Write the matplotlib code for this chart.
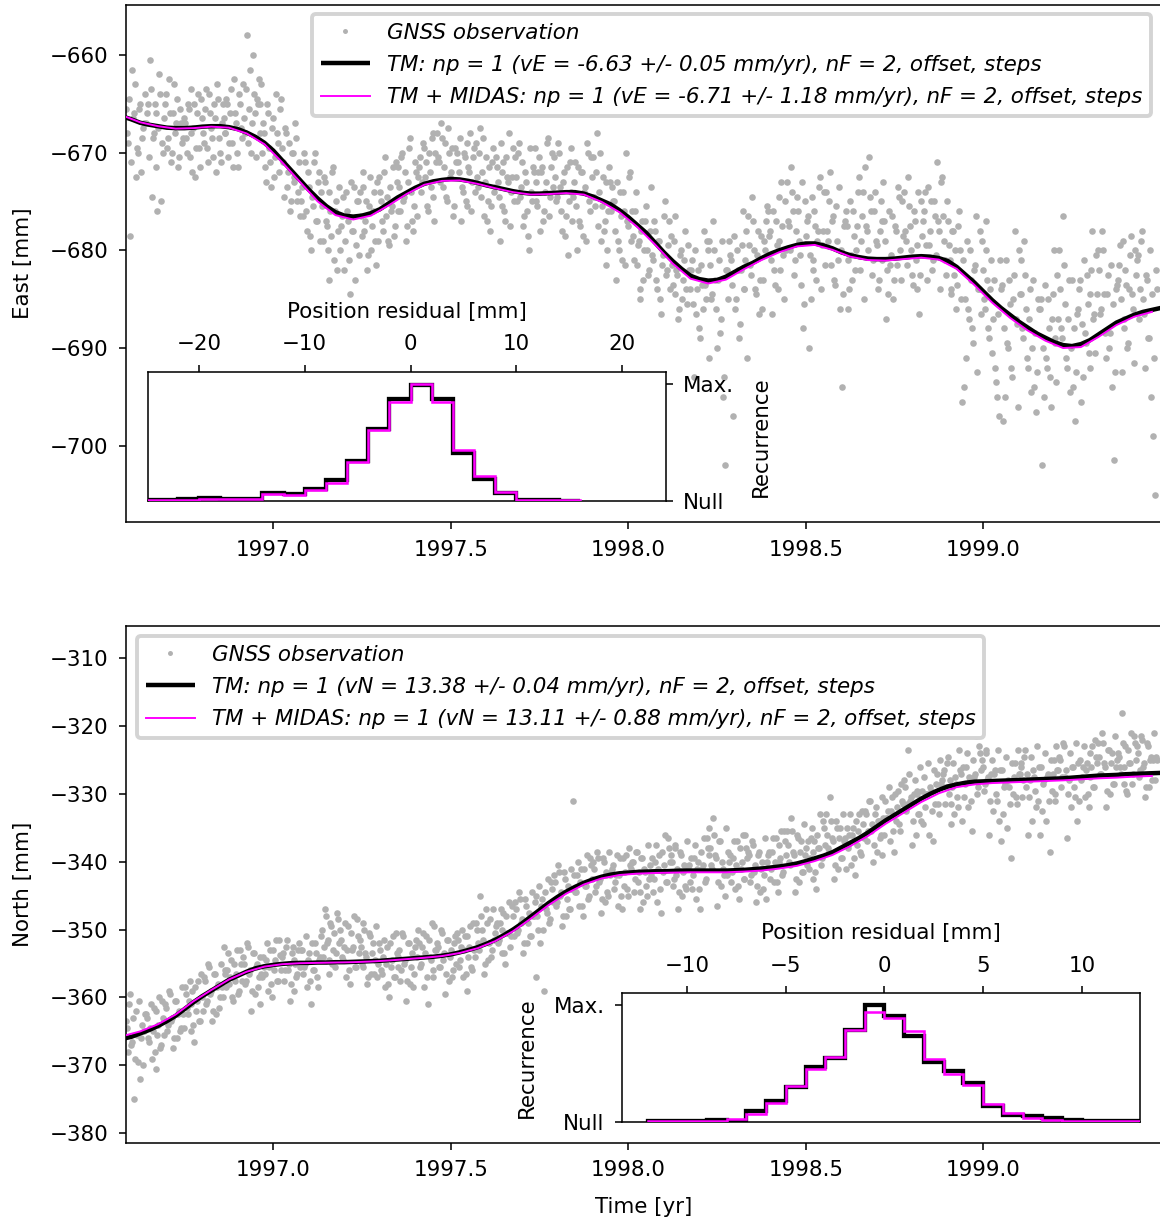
import numpy as np
import matplotlib
matplotlib.use("Agg")
import matplotlib.pyplot as plt

plt.rcParams["font.family"] = "DejaVu Sans"
plt.rcParams["font.size"] = 11
plt.rcParams["xtick.major.pad"] = 5.5
plt.rcParams["ytick.major.pad"] = 5.5
plt.rcParams["axes.labelpad"] = 8.6

# ---------------- data ----------------
# East observations, even days
east_obs = [
    -665.5, -669, -678.5, -661.5, -666, -672.5, -670, -665, -668.5, -667,
    -667, -665, -660.5, -674.5, -668, -666, -676, -662, -675, -670,
    -665, -669.5, -662.5, -671, -666, -668, -664.5, -670.5, -667, -668.5,
    -667, -670, -665.5, -668, -672, -665, -669.5, -664, -671.5, -666.5,
    -669, -663.5, -671, -666, -668.5, -665, -672, -664.5, -670, -667,
    -666.5, -668, -665, -669, -663.5, -671.5, -666, -670, -664, -667.5,
    -663, -668, -658, -665.5, -670, -660, -666, -664.5, -662.5, -665,
    -670, -668, -673, -666, -671, -667.5, -672.5, -664, -669, -665.5,
    -669.5, -674.5, -668, -672, -676, -670, -673, -667, -675, -671,
    -675, -676.5, -671, -678, -673.5, -680, -675.5, -670, -677, -672,
    -674, -679, -673, -677.5, -683, -676, -672, -681, -675, -678,
    -680, -676.5, -682, -674, -677, -684.5, -678, -673.5, -679.5, -675,
    -674, -678.5, -672, -677, -682, -675.5, -680, -676, -679, -673,
    -672.5, -675, -678, -670.5, -674.5, -679.5, -676, -671.5, -677.5, -673,
    -671.5, -676, -670, -674.5, -679, -673, -668.5, -677, -675.5, -672,
    -672.5, -670.5, -673, -669.5, -671, -676, -672, -668.5, -674.5, -670,
    -668, -671, -667, -673.5, -669, -675, -670, -672, -676.5, -669.5,
    -670, -672, -677, -674, -670.5, -675.5, -671.5, -668, -673, -669.5,
    -669, -673.5, -667.5, -672, -676.5, -670.5, -675, -678, -671, -674,
    -670.5, -673, -679, -675.5, -671, -677, -672.5, -668, -674, -669.5,
    -670.5, -675, -669, -673.5, -677.5, -672, -676, -680, -674, -671.5,
    -669.5, -675, -672, -678, -671.5, -676, -673, -668.5, -674.5, -670,
    -670.5, -675, -669, -673.5, -678, -672, -676.5, -680.5, -671, -674,
    -674.5, -671, -680, -677, -672, -678.5, -673.5, -669, -675, -670.5,
    -670.5, -675.5, -668, -674, -679, -672.5, -677, -681.5, -676, -673,
    -673.5, -675, -683, -679, -674, -681, -676, -670, -677.5, -672,
    -676, -681, -674, -679.5, -685, -678, -683, -677, -680, -682,
    -673.5, -681, -678, -684, -679, -686.5, -680.5, -675, -682, -677,
    -678.5, -683.5, -676.5, -682, -687, -680.5, -685, -681, -684, -679.5,
    -684, -681, -693, -686.5, -682, -689, -683.5, -678, -685, -680,
    -679, -685, -677, -683, -690, -681, -687, -695, -702, -682,
    -679, -681, -697, -686, -680, -689, -682, -676, -684, -678,
    -676.5, -681.5, -674.5, -680, -684.5, -678, -683, -686, -679, -677,
    -676, -678, -686.5, -682, -677, -684, -679, -673, -680.5, -675,
    -673, -677.5, -671.5, -676, -681, -674.5, -679, -683.5, -688, -675,
    -677, -690, -685, -681, -676, -683, -678, -672.5, -679.5, -674,
    -674, -679, -672, -677, -683, -675.5, -681, -686, -694, -677.5,
    -676, -686, -684, -680.5, -676, -682, -677.5, -672.5, -679, -674,
    -671.5, -678, -670.5, -676, -681, -674, -679.5, -683, -675, -677,
    -677, -687, -684.5, -681.5, -676.5, -683, -678, -673.5, -680, -675,
    -674, -679, -672.5, -677.5, -682.5, -676, -681, -684, -686.5, -675,
    -677, -674, -683, -679.5, -675, -681, -676.5, -671, -678, -673,
    -676.5, -681, -675, -679.5, -684, -678, -682.5, -686, -677.5, -680,
    -695.5, -694, -691, -686, -680, -688, -682, -676.5, -684, -678,
    -679, -685, -677, -683, -689, -681, -687, -692, -695, -697,
    -684, -697.5, -695, -689.5, -683, -692, -685, -678, -687.5, -680,
    -681, -688, -679, -686, -692, -684, -690, -694, -696.5, -685,
    -686, -702, -695, -691, -685, -693, -687, -680, -689, -682.5,
    -680, -688, -676.5, -685.5, -692, -683, -690, -694, -697.5, -686.5,
    -684, -695.5, -693, -688.5, -682.5, -690.5, -684.5, -678, -686.5, -680.5,
    -680, -686.5, -678, -684.5, -691, -682.5, -688.5, -694, -701.5, -684,
    -683, -679.5, -692.5, -688, -682, -690, -684, -678.5, -686, -680,
    -681, -687, -679, -685, -692, -683, -689, -695, -699, -705,
    -684,
]
# East observations, odd days
east_obs_odd = [
    -668, -664.5, -671, -666.5, -663, -669.5, -665.5, -672, -667.5, -664,
    -666, -670.5, -663.5, -668.5, -665, -671.5, -667.5, -664, -669, -666.5,
    -664, -668.5, -666, -670, -663, -667, -671.5, -665.5, -669, -666.5,
    -668.5, -665, -670.5, -663.5, -667.5, -672.5, -666, -669.5, -664.5, -668,
    -665.5, -669.5, -664, -667.5, -670.5, -666.5, -663, -668.5, -671, -665,
    -668, -664.5, -670.5, -666, -669, -662.5, -667, -671.5, -665, -668.5,
    -666.5, -663.5, -669, -661.5, -667, -664, -670.5, -665, -668, -663,
    -667, -671.5, -665, -669.5, -673.5, -666.5, -670.5, -668, -672, -664.5,
    -671, -667.5, -673.5, -669, -675, -670, -672.5, -668.5, -674, -676.5,
    -673.5, -670, -676, -672, -678.5, -674.5, -671, -677, -673, -679,
    -675.5, -672.5, -677, -680, -674, -678.5, -671.5, -676, -682, -673.5,
    -677.5, -674.5, -679, -676, -681, -673, -678, -683, -675, -680.5,
    -676.5, -673.5, -678, -675, -680.5, -672.5, -677.5, -674, -681.5, -679,
    -674, -677, -672, -676.5, -679, -673.5, -675.5, -678.5, -671, -676,
    -673.5, -670.5, -675, -672, -677.5, -669.5, -674, -678, -671, -676.5,
    -671.5, -674, -669, -672.5, -675.5, -670, -673.5, -668, -677, -671,
    -670.5, -673, -668.5, -671.5, -674.5, -667.5, -672.5, -669.5, -675.5, -671,
    -671, -668.5, -673.5, -670, -675, -669, -672, -676, -670.5, -674,
    -672.5, -670, -674.5, -668.5, -673, -677, -671.5, -675.5, -669.5, -673.5,
    -671.5, -674.5, -669, -672, -676, -670.5, -673, -677.5, -672.5, -675,
    -672.5, -670, -674.5, -671, -676.5, -673, -678.5, -669.5, -675, -672,
    -673, -675.5, -670.5, -672, -677, -674, -669, -676.5, -671.5, -673.5,
    -672.5, -674.5, -670, -676, -673, -678.5, -671.5, -675, -669.5, -677,
    -673, -675.5, -671.5, -677.5, -672, -674, -679, -670, -676, -672.5,
    -674.5, -672, -677.5, -670, -675.5, -678, -673, -680, -671.5, -676,
    -675, -678, -673, -680, -676.5, -674, -681.5, -677, -672.5, -679,
    -678.5, -676, -681.5, -679, -684, -677, -680, -675.5, -682.5, -678,
    -680.5, -677, -683, -679, -685, -681.5, -676.5, -682.5, -679.5, -684,
    -681.5, -679, -684.5, -682.5, -686, -680, -683, -678, -685.5, -682,
    -682, -685.5, -680, -684, -688, -681.5, -686, -683.5, -679, -691,
    -681.5, -684.5, -680, -686, -683, -688.5, -679, -693, -682, -685,
    -680.5, -683.5, -678.5, -685, -682, -687.5, -679.5, -684, -681, -691,
    -679.5, -682.5, -677, -684, -680.5, -686.5, -678.5, -683, -680, -675.5,
    -678.5, -681, -676, -683.5, -679.5, -674.5, -682, -677.5, -685, -680,
    -677, -680, -674, -682.5, -678, -676, -680.5, -673, -685.5, -678.5,
    -676.5, -680.5, -674.5, -682, -677.5, -679, -673.5, -684, -678, -681.5,
    -678, -675, -681.5, -676.5, -683.5, -679, -673.5, -680, -684.5, -677,
    -677.5, -681, -675, -683, -678.5, -680, -674, -682, -676.5, -685,
    -677.5, -680, -674.5, -682.5, -676, -679, -684, -678, -681, -673,
    -679, -682, -676, -680.5, -685, -677.5, -681.5, -674.5, -683, -678.5,
    -678, -681.5, -675.5, -680, -683.5, -677, -679.5, -674, -682.5, -678.5,
    -676, -679.5, -673.5, -678, -682, -675, -680.5, -677, -684, -672.5,
    -679, -682.5, -677, -681, -684.5, -678, -680, -683.5, -676, -685,
    -681, -685, -679, -687, -683, -689.5, -681.5, -692.5, -684, -686.5,
    -682, -686, -680, -688, -684, -690.5, -683, -693.5, -686.5, -681,
    -683.5, -688, -681, -690, -685.5, -693, -682.5, -687, -696, -684.5,
    -684.5, -689, -682.5, -691, -687, -694.5, -683, -688.5, -692.5, -686,
    -685, -690, -683.5, -692, -688, -696, -684.5, -689.5, -693.5, -687,
    -684, -689, -681.5, -691, -687, -694.5, -683, -688, -692.5, -686,
    -683, -687.5, -681, -689.5, -685.5, -692, -682, -687, -690.5, -684.5,
    -682, -686, -680, -688.5, -684.5, -690, -681.5, -685.5, -692.5, -683.5,
    -681.5, -685, -679, -687, -683.5, -689.5, -680.5, -684.5, -691.5, -682.5,
    -680.5, -684, -678, -686.5, -682.5, -689, -680, -684.5, -691, -682,
]

# North observations, even days
north_obs = [
    -363.5, -368, -359.5, -366.5, -375, -362, -369.5, -372, -364, -365,
    -362.5, -366, -364.5, -369, -361.5, -370.5, -365.5, -360, -367, -363,
    -361, -365, -359, -363.5, -367.5, -360.5, -366, -362, -364.5, -362.5,
    -358.5, -361.5, -360.5, -365, -359, -366.5, -362, -357.5, -363.5, -360,
    -357, -361, -355, -359.5, -363.5, -356.5, -362.5, -358, -360, -358.5,
    -352.5, -356.5, -356, -358, -354.5, -360.5, -357.5, -353, -359, -355,
    -354, -358, -352, -356.5, -362, -353.5, -359.5, -355, -357, -361,
    -357, -355.5, -354.5, -359, -353, -360, -356, -351.5, -357.5, -353.8,
    -354, -357.5, -352.5, -356, -360.5, -353.5, -359, -355, -356.5, -352,
    -353, -356.5, -355, -358.5, -353.5, -361, -356, -352, -357, -354.5,
    -351, -354, -347, -352, -356.5, -349, -355, -350.5, -353.5, -348.5,
    -350, -354, -352.5, -357, -349.5, -358, -353, -348, -355.5, -351,
    -351.5, -355, -349, -353.5, -358, -350.5, -356.5, -352, -354.5, -357,
    -352, -356, -354, -358.5, -352.5, -360, -355.5, -351, -357, -353.5,
    -354, -357.5, -350.5, -355, -360.5, -352, -358, -353.5, -356.5, -351.5,
    -350, -355.5, -352.5, -358.5, -351, -361, -354, -349, -357, -353,
    -352, -355.5, -350, -354.5, -359.5, -351.5, -357.5, -353, -356, -351,
    -350.5, -355.5, -352.5, -357, -351, -359, -354, -349.5, -356, -353,
    -349, -352, -345, -350, -356.5, -347, -354.5, -348.5, -353, -351.5,
    -349.5, -352, -349, -353.5, -347.5, -355, -350.5, -346, -351, -348,
    -346, -350.5, -344.5, -349, -353.5, -345.5, -352, -347.5, -351, -348,
    -346, -357, -350, -352, -345.5, -359, -347, -342.5, -348.5, -344,
    -342, -346.5, -340.5, -345, -349.5, -341.5, -348, -343.5, -347, -344,
    -331, -344.5, -342, -346.5, -341, -348, -343.5, -339, -345, -340.5,
    -340, -344.5, -338.5, -343, -347.5, -339.5, -346, -341.5, -345, -342,
    -341, -344, -342, -346.5, -339.5, -347, -343.5, -339, -345, -340.5,
    -340, -344.5, -338.5, -343, -347, -339.5, -346, -341.5, -345, -342.5,
    -342, -344.5, -340, -346, -339, -347.5, -341.5, -336, -343, -338,
    -339, -343.5, -337.5, -342, -347, -338.5, -345, -340.5, -344, -341,
    -343, -344, -339.5, -345.5, -340, -347, -341, -336.5, -342.5, -338,
    -335, -340.5, -333.5, -339, -346.5, -337, -343.5, -341, -345, -342,
    -340, -343, -339.5, -344, -337, -345.5, -341, -336, -342.5, -338,
    -338.5, -343, -337, -341.5, -346, -339, -344.5, -340, -342, -345.5,
    -339, -342.5, -338.5, -343, -336.5, -344.5, -340, -335.5, -341.5, -337,
    -335.5, -340, -333.5, -338.5, -344.5, -336, -343, -337, -341.5, -339,
    -340.5, -341, -336.5, -342.5, -337, -344, -338, -333, -339.5, -335,
    -333, -338, -330.5, -336.5, -342.5, -334, -341, -335, -339.5, -337,
    -341, -338, -336, -340.5, -335, -342, -337.5, -333, -339, -334.5,
    -332.5, -337, -331, -335.5, -340, -333, -338.5, -334, -336, -339,
    -336, -333.5, -332.5, -337, -330.5, -338.5, -334, -329.5, -335.5, -331,
    -328, -332.5, -323.5, -331, -337.5, -330, -336, -329.5, -333, -334,
    -334.5, -332, -330, -336, -329.5, -337, -331.5, -327, -333, -328.5,
    -327, -331.5, -325.5, -330, -334.5, -329, -333, -328.5, -332, -326.5,
    -334, -330.5, -326, -332, -328, -335.5, -327.5, -321.5, -329, -324,
    -325, -329.5, -323.5, -328, -336, -327, -332.5, -326.5, -331, -334,
    -337, -333, -328.5, -335, -329, -339.5, -330, -325.5, -331.5, -327,
    -326, -330.5, -324.5, -329, -336, -328, -334, -327.5, -332, -331,
    -336, -332.5, -328, -334, -327, -338.5, -329.5, -325, -331, -326.5,
    -324.5, -329, -322.5, -327.5, -336.5, -328, -332, -326, -330.5, -334,
    -331, -328, -326, -330.5, -325.5, -332, -327.5, -323, -329, -324.5,
    -322.5, -327, -321, -325.5, -332, -323.5, -330, -324, -328.5, -326,
    -324, -326, -318, -328.5, -323, -330, -325.5, -321, -327, -322.5,
    -323, -327.5, -321.5, -326, -330.5, -322.5, -329, -324.5, -325, -328,
    -325,
]
# North observations, odd days
north_obs_odd = [
    -364.5, -361, -367, -363, -369, -365.5, -360.5, -366, -370, -362.5,
    -363, -366.5, -361, -365, -368, -362, -364, -367.5, -360.5, -365.5,
    -361.5, -364, -359.5, -363, -366, -360.5, -362.5, -365, -358.5, -364.5,
    -359.5, -362.5, -357.5, -361, -364, -358.5, -360.5, -363.5, -356.5, -362,
    -357.5, -360.5, -355.5, -359, -362, -356.5, -358.5, -361.5, -355, -360,
    -356, -358.5, -353.5, -357, -360, -355, -356.5, -359.5, -353, -357.5,
    -355, -357.5, -352.5, -356, -359, -353.5, -355.5, -358.5, -354, -356.5,
    -354, -356.5, -352, -355.5, -358, -353, -354.5, -357.5, -351.5, -356,
    -353.5, -356, -351.5, -355, -358, -352.5, -354.5, -357, -353, -355.5,
    -353, -355.5, -351, -354.5, -357.5, -352, -356, -353.5, -358.5, -354,
    -350, -352.5, -348, -351.5, -354.5, -349.5, -353, -355.5, -347.5, -352,
    -351.5, -354.5, -349, -353, -356, -350.5, -352.5, -355.5, -348.5, -353.5,
    -352.5, -355.5, -350, -354, -357, -351, -353.5, -356.5, -349.5, -355,
    -353, -356.5, -351.5, -355, -358, -352, -354.5, -357, -350.5, -355.5,
    -353, -356, -351, -354.5, -357.5, -352, -355.5, -358.5, -352.5, -354,
    -352, -355, -350.5, -353.5, -357, -351.5, -354.5, -356, -349.5, -353,
    -352.5, -355.5, -350.5, -353.5, -356.5, -351.5, -354, -357, -352, -355,
    -351.5, -354.5, -350, -353, -356.5, -351, -352.5, -355.5, -349, -354,
    -350, -353, -348, -351.5, -355, -349, -352, -354, -347, -350.5,
    -349, -351.5, -347, -350, -353.5, -348, -350.5, -352.5, -346.5, -351,
    -347, -350, -345.5, -348.5, -352, -346.5, -349, -351, -344.5, -348,
    -345, -348, -343.5, -346.5, -350, -344.5, -347.5, -349, -343, -346,
    -343, -346, -341.5, -344.5, -348, -342.5, -345.5, -347, -341, -344,
    -342, -344.5, -340, -343, -346.5, -341, -343.5, -345.5, -339.5, -342.5,
    -341, -343.5, -339.5, -342.5, -345.5, -340, -342, -344.5, -338.5, -341.5,
    -340.5, -343, -339, -342, -345, -339.5, -341.5, -344, -338, -341,
    -340, -342.5, -338.5, -341.5, -344.5, -339.5, -341, -343.5, -337.5, -340.5,
    -339.5, -342.5, -337.5, -341, -344, -338.5, -340.5, -343, -336.5, -340,
    -340, -342.5, -338, -341, -344.5, -339, -341.5, -343.5, -337, -340.5,
    -339.5, -342, -337.5, -341, -344, -338.5, -340.5, -343, -336.5, -339,
    -338, -341, -336, -339.5, -343, -337, -340, -342, -335, -338.5,
    -339, -341.5, -337, -340.5, -343.5, -338, -340, -342.5, -336, -339.5,
    -339, -342, -337.5, -340.5, -343.5, -338.5, -341, -344, -336.5, -340,
    -338.5, -341, -336.5, -340, -343, -337.5, -339.5, -342, -335.5, -339,
    -337.5, -340.5, -335.5, -339, -342.5, -336.5, -338.5, -341.5, -334.5, -338,
    -337, -339.5, -335, -338.5, -341.5, -336, -338, -340.5, -334, -337.5,
    -336, -338.5, -334, -337, -340.5, -335, -336.5, -339.5, -333, -336.5,
    -335, -337.5, -333, -336, -339.5, -334, -335.5, -338.5, -332.5, -336.5,
    -333, -335.5, -331, -334.5, -337.5, -332, -334, -336.5, -330.5, -333.5,
    -331, -333.5, -329, -332.5, -335.5, -330, -332, -334.5, -328.5, -331.5,
    -329, -331.5, -327, -330.5, -334, -328, -330, -333, -326, -329.5,
    -327.5, -330, -325.5, -329, -332.5, -326.5, -328.5, -331.5, -325, -328,
    -326.5, -329, -324.5, -328, -331.5, -325.5, -327.5, -330.5, -323.5, -327,
    -326, -328.5, -324, -327.5, -331, -325, -327, -330, -323, -326.5,
    -326, -328.5, -324, -327.5, -331, -325, -327, -330, -323.5, -326.5,
    -326.5, -329, -324.5, -328, -331.5, -325.5, -327.5, -330.5, -323.5, -327,
    -325.5, -328, -323.5, -327, -330.5, -324.5, -326.5, -329.5, -323, -326,
    -326, -328.5, -324, -327.5, -331, -325, -327, -330, -323, -326.5,
    -325, -327.5, -323, -326.5, -330, -324, -326, -329, -322.5, -325.5,
    -325, -327.5, -323, -326.5, -330, -324, -326, -329, -322, -325.5,
    -324.5, -327, -322.5, -326, -329.5, -323.5, -325.5, -328.5, -321.5, -325,
    -324.5, -327, -322.5, -326, -329.5, -323.5, -325.5, -328.5, -321.5, -325,
    -324, -326.5, -322, -325.5, -329, -323, -325, -328, -321, -324.5,
]

# trajectory model (TM) sampled every 0.025 yr from 1996.575
east_tm = [
    -666.3, -666.6, -666.95, -667.15, -667.3, -667.45, -667.5, -667.5, -667.45, -667.35,
    -667.3, -667.3, -667.4, -667.6, -667.95, -668.4, -669.0, -669.8, -670.8, -671.8,
    -672.8, -673.8, -674.7, -675.5, -676.1, -676.45, -676.55, -676.45, -676.2, -675.8,
    -675.2, -674.6, -674.1, -673.6, -673.2, -672.95, -672.8, -672.7, -672.75, -672.9,
    -673.1, -673.35, -673.55, -673.75, -673.95, -674.1, -674.2, -674.2, -674.15, -674.1,
    -674.05, -674.05, -674.2, -674.5, -674.9, -675.3, -675.9, -676.6, -677.4, -678.2,
    -679.2, -680.2, -681.1, -681.9, -682.6, -682.95, -683.1, -683.05, -682.7, -682.2,
    -681.7, -681.3, -680.8, -680.35, -680.0, -679.7, -679.45, -679.3, -679.3, -679.5,
    -679.8, -680.2, -680.5, -680.7, -680.85, -680.9, -680.9, -680.85, -680.75, -680.65,
    -680.6, -680.65, -680.8, -681.1, -681.7, -682.5, -683.3, -684.2, -685.1, -685.9,
    -686.6, -687.3, -687.9, -688.5, -688.95, -689.4, -689.7, -689.8, -689.6, -689.2,
    -688.6, -688.0, -687.4, -687.0, -686.6, -686.3, -686.1, -685.9,
]
north_tm = [
    -366.1, -365.8, -365.3, -364.8, -364.2, -363.5, -362.7, -361.7, -360.7, -359.8,
    -359.0, -358.2, -357.4, -356.8, -356.2, -355.7, -355.4, -355.2, -355.05, -354.95,
    -354.9, -354.9, -354.85, -354.85, -354.8, -354.8, -354.75, -354.7, -354.65, -354.6,
    -354.5, -354.4, -354.3, -354.2, -354.1, -354.0, -353.85, -353.65, -353.35, -353.0,
    -352.6, -352.1, -351.5, -350.8, -350.0, -349.1, -348.1, -347.1, -346.1, -345.2,
    -344.4, -343.7, -343.1, -342.6, -342.2, -341.9, -341.7, -341.6, -341.5, -341.45,
    -341.4, -341.4, -341.35, -341.3, -341.3, -341.3, -341.3, -341.3, -341.3, -341.25,
    -341.2, -341.1, -341.0, -340.85, -340.7, -340.5, -340.25, -339.9, -339.5, -339.1,
    -338.6, -337.9, -337.2, -336.5, -335.7, -334.8, -333.9, -333.1, -332.3, -331.5,
    -330.7, -330.0, -329.4, -328.9, -328.6, -328.35, -328.2, -328.15, -328.1, -328.05,
    -328.0, -327.95, -327.9, -327.85, -327.8, -327.75, -327.7, -327.6, -327.5, -327.4,
    -327.3, -327.25, -327.2, -327.1, -327.05, -327.0, -326.95, -326.9,
]

# TM + MIDAS, sampled every 0.05 yr from 1996.575
east_midas = [
    -666.2, -666.9, -667.3, -667.55, -667.5, -667.35, -667.45, -668.05, -669.15, -671.0,
    -673.0, -675.0, -676.4, -676.85, -676.45, -675.4, -674.25, -673.3, -672.9, -672.85,
    -673.2, -673.65, -674.05, -674.3, -674.25, -674.15, -674.3, -675.05, -676.1, -677.6,
    -679.4, -681.35, -682.9, -683.4, -683.0, -681.95, -681.0, -680.2, -679.6, -679.45,
    -679.95, -680.65, -681.0, -681.05, -680.9, -680.75, -680.95, -681.9, -683.55, -685.35,
    -686.9, -688.2, -689.25, -690.0, -689.9, -688.85, -687.65, -686.8, -686.3,
]
north_midas = [
    -365.7, -365.0, -363.95, -362.5, -360.55, -358.9, -357.35, -356.2, -355.45, -355.1,
    -354.95, -354.9, -354.85, -354.8, -354.7, -354.55, -354.35, -354.15, -353.9, -353.45,
    -352.75, -351.7, -350.25, -348.4, -346.4, -344.7, -343.35, -342.45, -341.95, -341.75,
    -341.65, -341.6, -341.55, -341.55, -341.55, -341.45, -341.3, -341.0, -340.6, -339.9,
    -339.0, -337.7, -336.2, -334.4, -332.8, -331.2, -329.9, -329.0, -328.6, -328.4,
    -328.3, -328.2, -328.1, -328.0, -327.85, -327.7, -327.6, -327.45, -327.35,
]

# residual histograms (normalised so that Max. = 1)
east_edges = [-26, -24, -22, -20, -18, -16, -14, -12, -10, -8, -6, -4, -2, 0, 2, 4, 6, 8, 10, 12, 14, 16]
east_hist_tm = [0.012, 0.012, 0.014, 0.026, 0.020, 0.018, 0.069, 0.057, 0.10, 0.177, 0.34,
                0.62, 0.877, 0.99, 0.877, 0.414, 0.19, 0.071, 0.011, 0.006, 0.0]
east_hist_midas = [0.01, 0.01, 0.012, 0.02, 0.016, 0.015, 0.06, 0.05, 0.09, 0.155, 0.33,
                   0.605, 0.85, 1.0, 0.845, 0.435, 0.21, 0.075, 0.01, 0.005, 0.005]
north_edges = list(range(-12, 15))
north_hist_tm = [0.006, 0.008, 0.01, 0.02, 0.003, 0.09, 0.18, 0.30, 0.47, 0.55, 0.79, 1.0, 0.91,
                 0.74, 0.51, 0.44, 0.335, 0.14, 0.057, 0.05, 0.03, 0.015, 0.012, 0.006, 0.006, 0.01]
north_hist_midas = [0.005, 0.007, 0.008, 0.01, 0.024, 0.07, 0.16, 0.31, 0.45, 0.56, 0.79, 0.946, 0.89,
                    0.78, 0.536, 0.41, 0.32, 0.155, 0.077, 0.03, 0.015, 0.01, 0.008, 0.006, 0.006, 0.01]

label_obs = "GNSS observation"
label_e_tm = "TM: np = 1 (vE = -6.63 +/- 0.05 mm/yr), nF = 2, offset, steps"
label_e_mid = "TM + MIDAS: np = 1 (vE = -6.71 +/- 1.18 mm/yr), nF = 2, offset, steps"
label_n_tm = "TM: np = 1 (vN = 13.38 +/- 0.04 mm/yr), nF = 2, offset, steps"
label_n_mid = "TM + MIDAS: np = 1 (vN = 13.11 +/- 0.88 mm/yr), nF = 2, offset, steps"
xticks = [1997.0, 1997.5, 1998.0, 1998.5, 1999.0]

# sampling grids (daily observations, model curves on regular grids)
day = 1.0 / 365.25
t_even_e = 1996.586 + 2 * day * np.arange(len(east_obs))
t_odd_e = 1996.586 + day + 2 * day * np.arange(len(east_obs_odd))
t_even_n = 1996.586 + 2 * day * np.arange(len(north_obs))
t_odd_n = 1996.586 + day + 2 * day * np.arange(len(north_obs_odd))
t_tm = np.linspace(1996.575, 1999.5, len(east_tm))
t_mid = np.linspace(1996.575, 1999.475, len(east_midas))

# ---------------- figure ----------------
DPI = 140
W, H = 1160, 1223
fig = plt.figure(figsize=(W / DPI, H / DPI), dpi=DPI)


def fr(l, t, r, b):
    return [l / W, 1 - b / H, (r - l) / W, (b - t) / H]


ax1 = fig.add_axes(fr(126, 5, 1161, 522))
ax2 = fig.add_axes(fr(126, 626, 1161, 1143))

GRAY = "#b1b1b1"
MAG = "#ff00ff"

for ax, te, to, oe, oo, tm, mid, lt, lm in [
    (ax1, t_even_e, t_odd_e, east_obs, east_obs_odd, east_tm, east_midas, label_e_tm, label_e_mid),
    (ax2, t_even_n, t_odd_n, north_obs, north_obs_odd, north_tm, north_midas, label_n_tm, label_n_mid),
]:
    tt = np.concatenate([te, to])
    oo_all = np.concatenate([oe, oo])
    order = np.argsort(tt)
    ax.plot(tt[order], oo_all[order], "o", ms=3.4, color=GRAY, mec="none", label=label_obs, zorder=1)
    ax.plot(t_tm, tm, "-", color="black", lw=2.3, label=lt, zorder=2, solid_capstyle="butt")
    ax.plot(t_mid, mid, "-", color=MAG, lw=1.0, label=lm, zorder=3)
    ax.set_xlim(1996.585, 1999.5006)
    ax.set_xticks(xticks)
    ax.set_xticklabels([f"{x:.1f}" for x in xticks])

ax1.set_ylim(-707.8, -654.9)
ax1.set_yticks([-700, -690, -680, -670, -660])
ax1.set_ylabel("East [mm]")
ax2.set_ylim(-381.45, -305.25)
ax2.set_yticks([-380, -370, -360, -350, -340, -330, -320, -310])
ax2.set_ylabel("North [mm]")
ax2.set_xlabel("Time [yr]")

leg_kw = dict(prop={"style": "italic", "size": 11}, labelspacing=0.58, handlelength=2.3,
              markerscale=0.75, borderaxespad=0.0, framealpha=1.0, edgecolor="#d4d4d4",
              bbox_transform=fig.transFigure)
l1 = ax1.legend(loc="upper right", bbox_to_anchor=(1151 / W, 1 - 14 / H), **leg_kw)
l2 = ax2.legend(loc="upper left", bbox_to_anchor=(137 / W, 1 - 636 / H), **leg_kw)
for lg in (l1, l2):
    lg.get_frame().set_linewidth(2.0)

# ---------------- insets ----------------
ins1 = fig.add_axes(fr(148, 372, 665.7, 501))
ins1.stairs(east_hist_tm, east_edges, color="black", lw=2.2, zorder=2)
ins1.stairs(east_hist_midas, east_edges, color=MAG, lw=1.3, zorder=3)
ins1.set_xlim(-24.8, 24.1)
ins1.set_ylim(0, 1.105)
ins1.set_xticks([-20, -10, 0, 10, 20])
ins1.xaxis.tick_top()
ins1.xaxis.set_label_position("top")
ins1.set_xlabel("Position residual [mm]")
ins1.yaxis.tick_right()
ins1.yaxis.set_label_position("right")
ins1.set_yticks([0, 1])
ins1.set_yticklabels(["Null", "Max."])
ins1.set_ylabel("Recurrence")

ins2 = fig.add_axes(fr(622, 993, 1140, 1122))
ins2.stairs(north_hist_tm, north_edges, color="black", lw=2.2, zorder=2)
ins2.stairs(north_hist_midas, north_edges, color=MAG, lw=1.3, zorder=3)
ins2.set_xlim(-13.3, 12.95)
ins2.set_ylim(0, 1.105)
ins2.set_xticks([-10, -5, 0, 5, 10])
ins2.xaxis.tick_top()
ins2.xaxis.set_label_position("top")
ins2.set_xlabel("Position residual [mm]")
ins2.set_yticks([0, 1])
ins2.set_yticklabels(["Null", "Max."])
ins2.set_ylabel("Recurrence")

fig.savefig("out.png", dpi=DPI)
